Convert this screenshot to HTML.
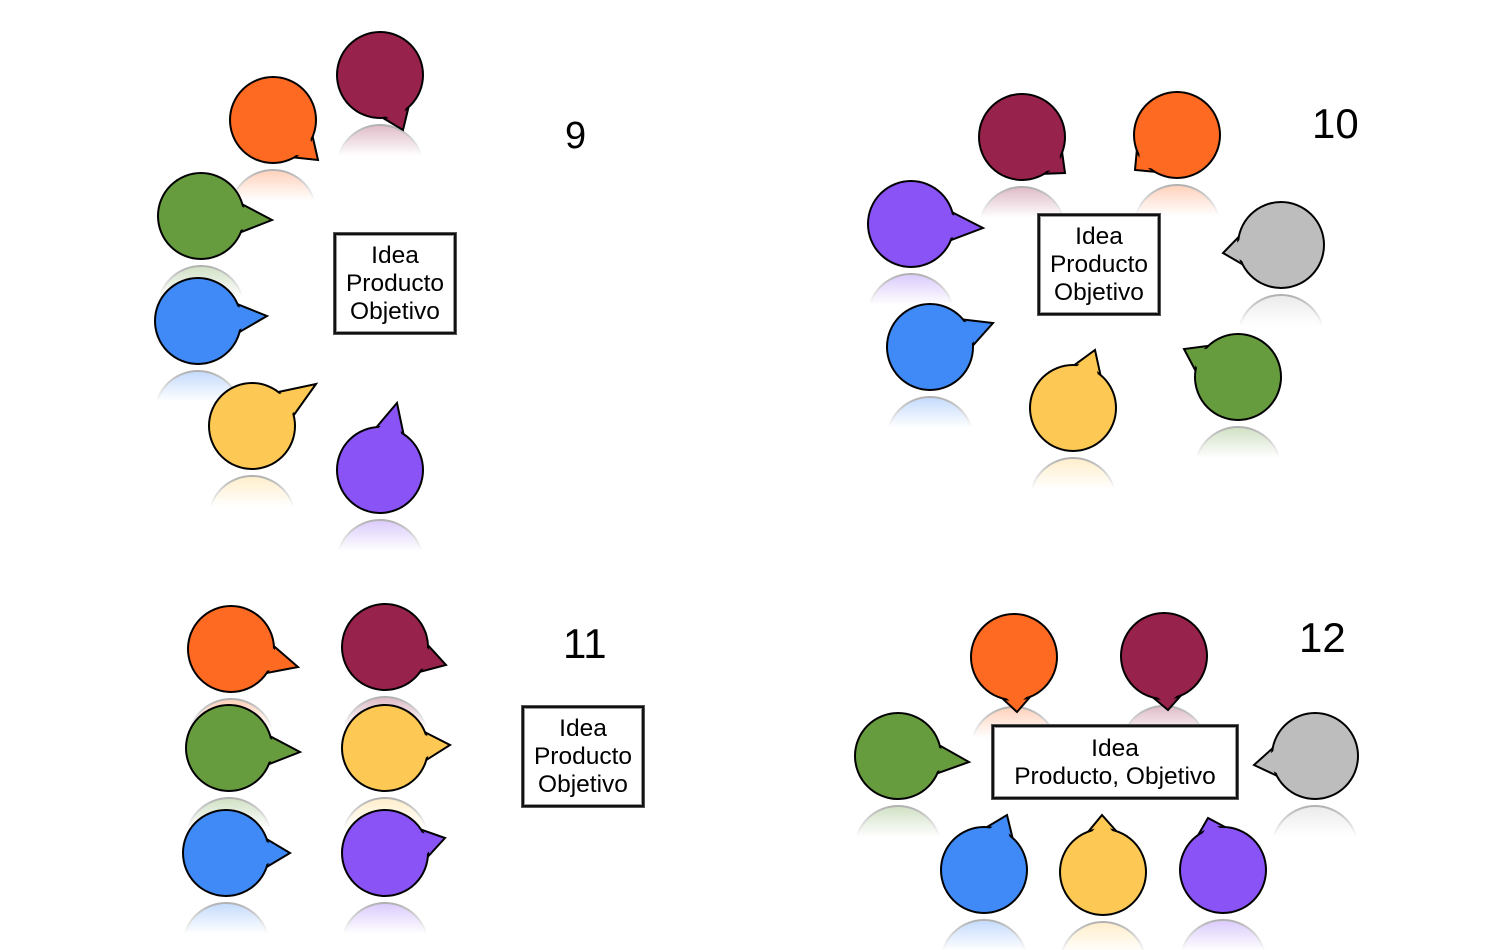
<!DOCTYPE html>
<html><head><meta charset="utf-8"><style>
html,body{margin:0;padding:0;background:#fff;}
body{width:1505px;height:950px;position:relative;overflow:hidden;font-family:"Liberation Sans","DejaVu Sans",sans-serif;}
svg{position:absolute;left:0;top:0;}
.box{position:absolute;background:#fff;border:2px solid #111;box-shadow:0 0 0 1px #555, inset 0 0 0 1px #999;text-align:center;font-size:24.5px;line-height:28px;color:#000;box-sizing:border-box;padding-top:7px;white-space:nowrap;}
.num{position:absolute;font-size:42px;color:#000;line-height:1;}
</style></head><body>
<svg id="s" width="1505" height="950" viewBox="0 0 1505 950"></svg>
<div class="box" style="left:334px;top:233px;width:122px;height:101px;">Idea<br>Producto<br>Objetivo</div>
<div class="box" style="left:1038px;top:214px;width:122px;height:101px;">Idea<br>Producto<br>Objetivo</div>
<div class="box" style="left:522px;top:706px;width:122px;height:101px;">Idea<br>Producto<br>Objetivo</div>
<div class="box" style="left:992px;top:725px;width:246px;height:74px;padding-top:8px;">Idea<br>Producto, Objetivo</div>
<div class="num" style="left:565px;top:117px;font-size:38px;">9</div>
<div class="num" style="left:1312px;top:103px;">10</div>
<div class="num" style="left:563px;top:623px;">11</div>
<div class="num" style="left:1299px;top:617px;">12</div>
<script>
var C={m:"#97224c",o:"#fe6a21",g:"#679c3e",b:"#3f8af6",y:"#fdc853",p:"#8953f5",k:"#bdbdbd"};
var B=[
["m",380,75,403,130],["o",273,120,318,160],["g",201,216,272,220],["b",198,321,267,316],["y",252,426,316,384],["p",380,470,397,403],
["m",1022,137,1065,173],["o",1177,135,1135,170],["p",911,224,983,228],["k",1281,245,1223,253],["b",930,347,993,323],["y",1073,408,1095,350],["g",1238,377,1184,349],
["o",231,649,298,667],["m",385,647,446,665],["g",229,748,300,752],["y",385,748,450,745],["b",226,853,290,853],["p",385,853,445,838],
["o",1014,657,1017,712],["m",1164,656,1168,710],["g",898,756,969,762],["k",1315,756,1254,765],["b",984,870,1007,815],["y",1103,872,1102,815],["p",1223,870,1208,818]
];
var r=43,defs="",refl="",main="";
B.forEach(function(d,i){
 var col=C[d[0]],cx=d[1],cy=d[2],tx=d[3],ty=d[4];
 var a=Math.atan2(ty-cy,tx-cx),w=0.33;
 var p1=[cx+r*Math.cos(a-w),cy+r*Math.sin(a-w)],p2=[cx+r*Math.cos(a+w),cy+r*Math.sin(a+w)];
 var q1=[cx+(r-3)*Math.cos(a-w),cy+(r-3)*Math.sin(a-w)],q2=[cx+(r-3)*Math.cos(a+w),cy+(r-3)*Math.sin(a+w)];
 var y0=cy+r+3,y1=Math.min(cy+r+38,950);
 defs+='<linearGradient id="g'+i+'" gradientUnits="userSpaceOnUse" x1="0" y1="'+y0+'" x2="0" y2="'+(cy+r+38)+'"><stop offset="0" stop-color="#fff" stop-opacity="0.35"/><stop offset="1" stop-color="#fff" stop-opacity="0"/></linearGradient><mask id="k'+i+'"><rect x="'+(cx-60)+'" y="'+y0+'" width="120" height="'+(y1-y0)+'" fill="url(#g'+i+')"/></mask>';
 refl+='<circle cx="'+cx+'" cy="'+(cy+2*r+7)+'" r="'+r+'" fill="'+col+'" stroke="#000" stroke-width="2" mask="url(#k'+i+')"/>';
 main+='<polygon points="'+p1+' '+tx+','+ty+' '+p2+'" fill="'+col+'" stroke="#000" stroke-width="2" stroke-linejoin="miter"/>';
 main+='<circle cx="'+cx+'" cy="'+cy+'" r="'+r+'" fill="'+col+'" stroke="#000" stroke-width="2"/>';
 main+='<polygon points="'+q1+' '+(tx+(cx-tx)*0.1)+','+(ty+(cy-ty)*0.1)+' '+q2+'" fill="'+col+'"/>';
});
document.getElementById("s").innerHTML='<defs>'+defs+'</defs>'+refl+main;
</script>
</body></html>
